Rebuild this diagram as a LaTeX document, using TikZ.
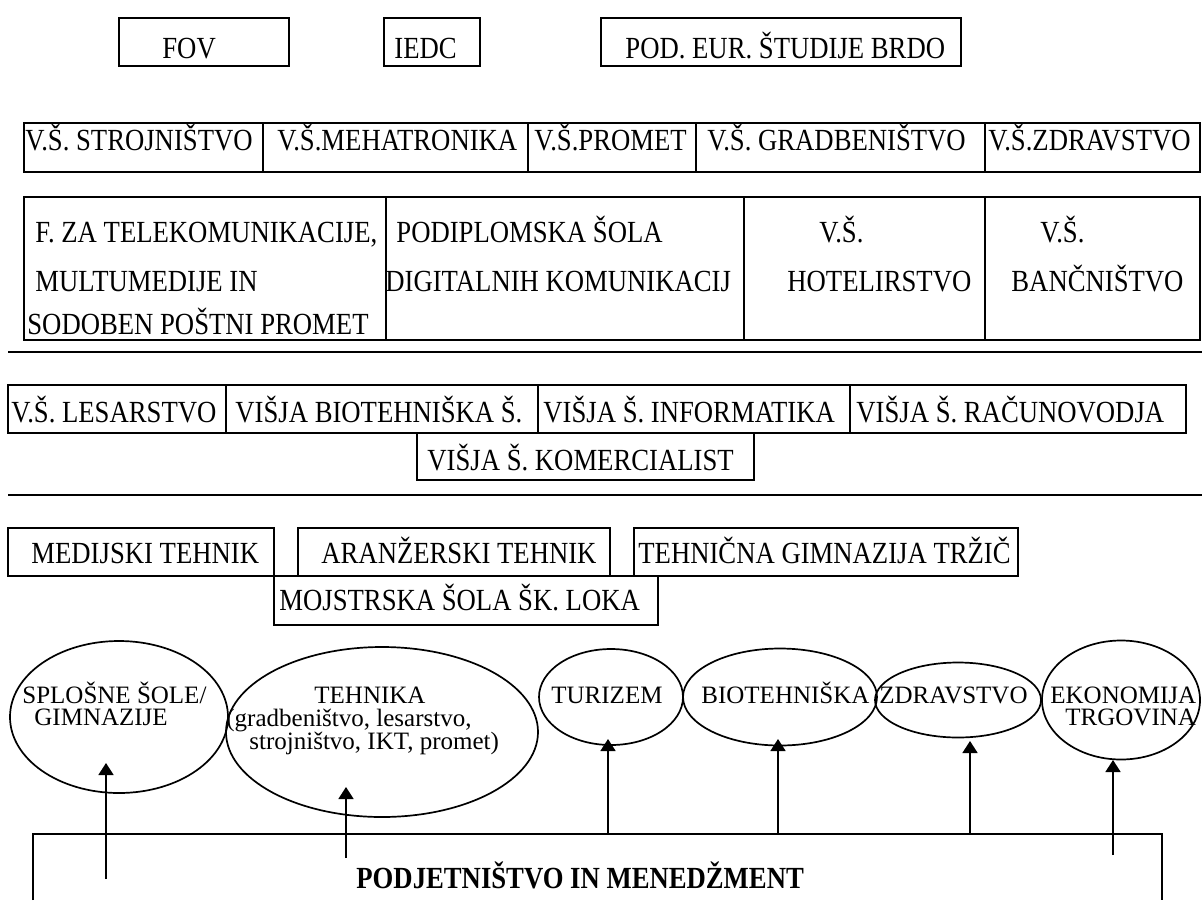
\documentclass[tikz,border=0pt]{standalone}
\usepackage{fontspec}
\setmainfont{Liberation Serif}
\usetikzlibrary{fit,shapes.geometric,arrows.meta}
% box captions are set slightly taller than wide
\newcommand\tallcap[1]{\scalebox{1}[1.15]{#1}}
\begin{document}
\begin{tikzpicture}[x=0.5pt,y=-0.5pt,
  box/.style={draw,line width=0.85pt,inner sep=0pt},
  ell/.style={draw,line width=0.85pt,ellipse,inner sep=0pt},
  txt/.style={inner sep=0pt,anchor=base west,font=\fontsize{13.35}{16}\selectfont},
  etxt/.style={inner sep=0pt,anchor=base west,font=\fontsize{12.5}{15}\selectfont},
  sepline/.style={line width=0.85pt},
  arr/.style={line width=0.85pt,-{Triangle[length=6pt,width=7.5pt]}}]
\useasboundingbox (0,0) rectangle (1203,900);

% --- postgraduate institutions
\node[box,fit={(119,18)(289,66)}] (fov) {};
\node[txt] (fovt) at (162,58) {\tallcap{FOV}};
\node[box,fit={(384,18)(480,66)}] (iedc) {};
\node[txt] (iedct) at (394,58) {\tallcap{IEDC}};
\node[box,fit={(601,18)(961,66)}] (brdo) {};
\node[txt] (brdot) at (625,58) {\tallcap{POD. EUR. ŠTUDIJE BRDO}};

% --- higher professional schools, first row
\node[box,fit={(24,123)(263,172)}] (vs1) {};
\node[txt] (vs1t) at (25,150) {\tallcap{V.Š. STROJNIŠTVO}};
\node[box,fit={(263,123)(528,172)}] (vs2) {};
\node[txt] (vs2t) at (277,150) {\tallcap{V.Š.MEHATRONIKA}};
\node[box,fit={(528,123)(696,172)}] (vs3) {};
\node[txt] (vs3t) at (534,150) {\tallcap{V.Š.PROMET}};
\node[box,fit={(696,123)(985,172)}] (vs4) {};
\node[txt] (vs4t) at (707,150) {\tallcap{V.Š. GRADBENIŠTVO}};
\node[box,fit={(985,123)(1200,172)}] (vs5) {};
\node[txt] (vs5t) at (988,150) {\tallcap{V.Š.ZDRAVSTVO}};

% --- faculties and schools, second row
\node[box,fit={(24,197)(386,340)}] (fa1) {};
\node[txt] (fa1a) at (35,242) {\tallcap{F. ZA TELEKOMUNIKACIJE,}};
\node[txt] (fa1b) at (35,291) {\tallcap{MULTUMEDIJE IN}};
\node[txt] (fa1c) at (27,334) {\tallcap{SODOBEN POŠTNI PROMET}};
\node[box,fit={(386,197)(744,340)}] (fa2) {};
\node[txt] (fa2a) at (396,242) {\tallcap{PODIPLOMSKA ŠOLA}};
\node[txt] (fa2b) at (385,291) {\tallcap{DIGITALNIH KOMUNIKACIJ}};
\node[box,fit={(744,197)(985,340)}] (fa3) {};
\node[txt] (fa3a) at (819,242) {\tallcap{V.Š.}};
\node[txt] (fa3b) at (787,291) {\tallcap{HOTELIRSTVO}};
\node[box,fit={(985,197)(1200,340)}] (fa4) {};
\node[txt] (fa4a) at (1040,242) {\tallcap{V.Š.}};
\node[txt] (fa4b) at (1011,291) {\tallcap{BANČNIŠTVO}};

% --- separator
\coordinate (s1a) at (8,352);
\coordinate (s1b) at (1202,352);
\draw[sepline] (s1a) -- (s1b);

% --- short-cycle higher schools
\node[box,fit={(8,385)(226,433)}] (hs1) {};
\node[txt] (hs1t) at (11,422) {\tallcap{V.Š. LESARSTVO}};
\node[box,fit={(226,385)(538,433)}] (hs2) {};
\node[txt] (hs2t) at (235,422) {\tallcap{VIŠJA BIOTEHNIŠKA Š.}};
\node[box,fit={(538,385)(850,433)}] (hs3) {};
\node[txt] (hs3t) at (543,422) {\tallcap{VIŠJA Š. INFORMATIKA}};
\node[box,fit={(850,385)(1186,433)}] (hs4) {};
\node[txt] (hs4t) at (856,422) {\tallcap{VIŠJA Š. RAČUNOVODJA}};
\node[box,fit={(417,433)(754,480)}] (hs5) {};
\node[txt] (hs5t) at (427,470) {\tallcap{VIŠJA Š. KOMERCIALIST}};

% --- separator
\coordinate (s2a) at (8,495);
\coordinate (s2b) at (1202,495);
\draw[sepline] (s2a) -- (s2b);

% --- secondary programmes
\node[box,fit={(8,528)(274,576)}] (sp1) {};
\node[txt] (sp1t) at (31,563) {\tallcap{MEDIJSKI TEHNIK}};
\node[box,fit={(298,528)(610,576)}] (sp2) {};
\node[txt] (sp2t) at (321,563) {\tallcap{ARANŽERSKI TEHNIK}};
\node[box,fit={(634,528)(1018,576)}] (sp3) {};
\node[txt] (sp3t) at (638,563) {\tallcap{TEHNIČNA GIMNAZIJA TRŽIČ}};
\node[box,fit={(274,576)(658,625)}] (sp4) {};
\node[txt] (sp4t) at (279,610) {\tallcap{MOJSTRSKA ŠOLA ŠK. LOKA}};

% --- fields
\node[ell,minimum width=218pt*0.5,minimum height=152pt*0.5] (gim) at (119,717) {};
\node[etxt] (gima) at (22,703) {SPLOŠNE ŠOLE/};
\node[etxt] (gimb) at (34,725) {GIMNAZIJE};
\node[ell,minimum width=312pt*0.5,minimum height=170pt*0.5] (teh) at (382,732) {};
\node[etxt] (teha) at (314,703) {TEHNIKA};
\node[etxt] (tehb) at (226,726) {(gradbeništvo, lesarstvo,};
\node[etxt] (tehc) at (249,749) {strojništvo, IKT, promet)};
\node[ell,minimum width=144pt*0.5,minimum height=96pt*0.5] (tur) at (611,697) {};
\node[etxt] (turt) at (551,703) {TURIZEM};
\node[ell,minimum width=194pt*0.5,minimum height=97pt*0.5] (bio) at (780,697) {};
\node[etxt] (biot) at (701,703) {BIOTEHNIŠKA};
\node[ell,minimum width=166pt*0.5,minimum height=75pt*0.5] (zdr) at (958,700) {};
\node[etxt] (zdrt) at (879,703) {ZDRAVSTVO};
\node[ell,minimum width=158pt*0.5,minimum height=119pt*0.5] (eko) at (1121,700) {};
\node[etxt] (ekoa) at (1050,703) {EKONOMIJA};
\node[etxt] (ekob) at (1065,725) {TRGOVINA};

% --- entrepreneurship frame, running past the lower edge
\coordinate (fbl) at (33,900);
\coordinate (ftl) at (33,834);
\coordinate (ftr) at (1162,834);
\coordinate (fbr) at (1162,900);
\draw[sepline] (fbl) -- (ftl) -- (ftr) -- (fbr);
\node[txt,font=\fontsize{13.35}{16}\selectfont\bfseries] (pim) at (356,888) {\tallcap{PODJETNIŠTVO IN MENEDŽMENT}};

% --- arrows into the fields
\coordinate (a1s) at (106,879);  \coordinate (a1e) at (106,763);
\coordinate (a2s) at (346,858);  \coordinate (a2e) at (346,787);
\coordinate (a3s) at (608,834);  \coordinate (a3e) at (608,739);
\coordinate (a4s) at (778,834);  \coordinate (a4e) at (778,739);
\coordinate (a5s) at (970,834);  \coordinate (a5e) at (970,741);
\coordinate (a6s) at (1113,855); \coordinate (a6e) at (1113,760);
\foreach \i in {1,...,6} \draw[arr] (a\i s) -- (a\i e);
\end{tikzpicture}
\end{document}
